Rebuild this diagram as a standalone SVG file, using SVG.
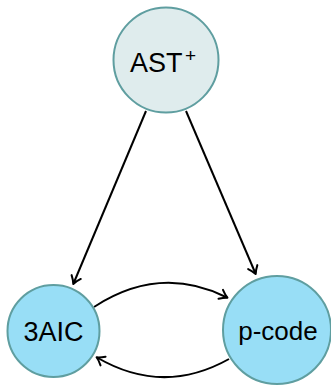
<svg xmlns="http://www.w3.org/2000/svg" width="331" height="385" viewBox="0 0 331 385">
<defs>
<marker id="arr" markerUnits="userSpaceOnUse" markerWidth="16" markerHeight="16" refX="0" refY="0" viewBox="-10 -8 12 16" orient="auto">
<path d="M-7,-5 Q-2.5,-1.2 0.5,0 Q-2.5,1.2 -7,5" fill="none" stroke="#000" stroke-width="2" stroke-linecap="round" stroke-linejoin="round"/>
</marker>
</defs>
<style>
.edge{fill:none;stroke:#000;stroke-width:2;marker-end:url(#arr)}
.n circle{stroke:#5f9ea0;stroke-width:2}
.lbl{font-family:"Liberation Sans",Arial,sans-serif;font-size:26px;fill:#000}
</style>
<rect width="331" height="385" fill="#fff"/>
<g id="connectors">
<path class="edge" d="M146,111 L73.5,283.5"/>
<path class="edge" d="M186,111 L255.5,273.5"/>
<path class="edge" d="M94,307 Q160,264 227,297.5"/>
<path class="edge" d="M229,359 Q163,396 97,357.5"/>
</g>
<g id="ast" class="n">
<circle cx="166" cy="60" r="52.5" fill="#dfeced"/>
<text class="lbl" x="130" y="72" style="font-size:27px">AST</text>
<text class="lbl" x="185" y="62" style="font-size:19px">+</text>
</g>
<g id="threeaic" class="n">
<circle cx="53.5" cy="331" r="46" fill="#98def6"/>
<text class="lbl" x="53.5" y="341" text-anchor="middle" style="font-size:27px">3AIC</text>
</g>
<g id="pcode" class="n">
<circle cx="277" cy="330" r="54" fill="#98def6"/>
<text class="lbl" x="278" y="340" text-anchor="middle">p-code</text>
</g>
</svg>
